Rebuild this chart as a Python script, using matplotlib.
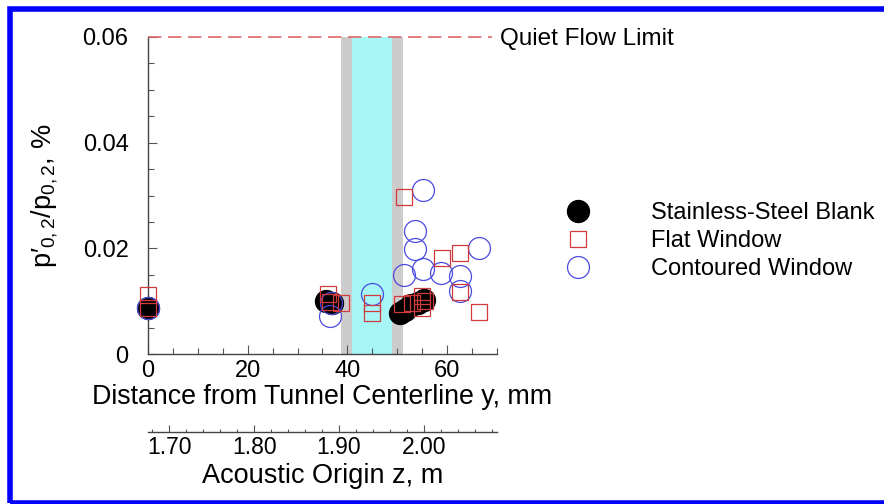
import matplotlib
matplotlib.use("Agg")
import matplotlib.pyplot as plt
from matplotlib.patches import Rectangle
from matplotlib.ticker import MultipleLocator

plt.rcParams["font.family"] = ["Liberation Sans", "DejaVu Sans"]
plt.rcParams["mathtext.fontset"] = "custom"
plt.rcParams["mathtext.rm"] = "Liberation Sans"
plt.rcParams["mathtext.it"] = "Liberation Sans:italic"

# y (mm) and p'/p (%) for each model configuration
blank_y = [0.0, 35.8, 37.0, 50.6, 51.5, 52.8, 54.2, 55.3]
blank_p = [0.0087, 0.0100, 0.0096, 0.0078, 0.0083, 0.0092, 0.0097, 0.0103]

flat_y = [0.0, 0.0, 36.2, 36.5, 38.8, 44.9, 44.9, 50.9, 53.0, 54.9, 54.9, 55.5,
          51.3, 58.9, 62.6, 62.6, 66.3]
flat_p = [0.0112, 0.0088, 0.0113, 0.0099, 0.0096, 0.0096, 0.0078, 0.0094, 0.0097,
          0.0109, 0.0088, 0.0100, 0.0298, 0.0182, 0.0192, 0.0118, 0.0080]

cont_y = [0.0, 36.5, 36.8, 44.9, 51.3, 53.5, 53.5, 55.2, 55.1, 58.8, 62.6, 62.6, 66.4]
cont_p = [0.0087, 0.0072, 0.0097, 0.0113, 0.0150, 0.0232, 0.0199, 0.0311, 0.0160,
          0.0153, 0.0147, 0.0120, 0.0201]

QUIET_LIMIT = 0.06
window_frame = (38.7, 51.2)
window_glass = (41.0, 49.0)

Y_TICKS = [0, 0.02, 0.04, 0.06]
Y_TICK_LABELS = ["0", "0.02", "0.04", "0.06"]
Z_TICKS = [1.70, 1.80, 1.90, 2.00]

# acoustic origin z (m) versus lateral distance y (mm)
Z0 = 1.675
DZ_DY = 0.411 / 70.0


def y_to_z(y):
    return Z0 + y * DZ_DY


def z_to_y(z):
    return (z - Z0) / DZ_DY


fig = plt.figure(figsize=(8.84, 5.04), dpi=100)
ax = fig.add_axes([0.1674, 0.2976, 0.3948, 0.629])

ax.axvspan(*window_frame, color="#cccccc", lw=0, zorder=0)
ax.axvspan(*window_glass, color="#a6f6f6", lw=0, zorder=0)
ax.axhline(QUIET_LIMIT, xmax=0.985, color="#e06666", lw=1.2,
           dashes=(8, 4), clip_on=False, zorder=5)
ax.text(70.6, QUIET_LIMIT - 0.0004, "Quiet Flow Limit", fontsize=17.5,
        va="center", ha="left", clip_on=False)

ax.plot(blank_y, blank_p, "o", ms=15.8, color="black", ls="none",
        label="Stainless-Steel Blank", zorder=3, clip_on=False)
ax.plot(cont_y, cont_p, "o", ms=15.8, mfc="none", mec="#4a4ae0", mew=0.9,
        ls="none", label="Contoured Window", zorder=4, clip_on=False)
ax.plot(flat_y, flat_p, "s", ms=11.5, mfc="none", mec="#d03a3a", mew=0.9,
        ls="none", label="Flat Window", zorder=4, clip_on=False)

ax.set_xlim(0, 70)
ax.set_ylim(0, 0.06)
ax.xaxis.set_major_locator(MultipleLocator(20))
ax.xaxis.set_minor_locator(MultipleLocator(5))
ax.set_yticks(Y_TICKS, labels=Y_TICK_LABELS)
ax.yaxis.set_minor_locator(MultipleLocator(0.005))

for side in ("top", "right"):
    ax.spines[side].set_visible(False)
for side in ("left", "bottom"):
    ax.spines[side].set_color("#444444")
    ax.spines[side].set_linewidth(1.0)

ax.tick_params(which="both", direction="in", color="#555555", width=0.8,
               labelsize=17)
ax.tick_params(which="major", length=6.5)
ax.tick_params(which="minor", length=4)
ax.tick_params(axis="y", pad=14)
ax.tick_params(axis="x", pad=4)

ax.set_xlabel("Distance from Tunnel Centerline y, mm", fontsize=19.3,
              labelpad=2)
ax.set_ylabel("p′$_{\\mathregular{0,2}}$/p$_{\\mathregular{0,2}}$, %",
              fontsize=19.5, labelpad=16)

sec = ax.secondary_xaxis(-0.246, functions=(y_to_z, z_to_y))
sec.set_xticks(Z_TICKS, labels=[f"{z:.2f}" for z in Z_TICKS])
sec.xaxis.set_minor_locator(MultipleLocator(0.02))
sec.xaxis.set_ticks_position("bottom")
sec.spines["bottom"].set_color("#444444")
sec.spines["bottom"].set_linewidth(1.0)
sec.tick_params(which="both", direction="in", color="#555555", width=0.8,
                labelsize=16.5, pad=3)
sec.tick_params(which="major", length=5)
sec.tick_params(which="minor", length=2.5)
sec.set_xlabel("Acoustic Origin z, m", fontsize=19.5, labelpad=3)

handles, labels = ax.get_legend_handles_labels()
order = [0, 2, 1]
ax.legend([handles[i] for i in order], [labels[i] for i in order],
          loc="center left", bbox_to_anchor=(0.640, 0.522),
          bbox_transform=fig.transFigure, frameon=False, fontsize=17,
          borderpad=0, handlelength=1.0, handletextpad=2.6,
          labelspacing=0.25, borderaxespad=0)

fig.add_artist(Rectangle((0.0113, 0.001), 1.1, 0.982, transform=fig.transFigure,
                         fill=False, edgecolor="#0000ff", lw=4.0,
                         clip_on=False))

fig.savefig("out.png", dpi=100)
